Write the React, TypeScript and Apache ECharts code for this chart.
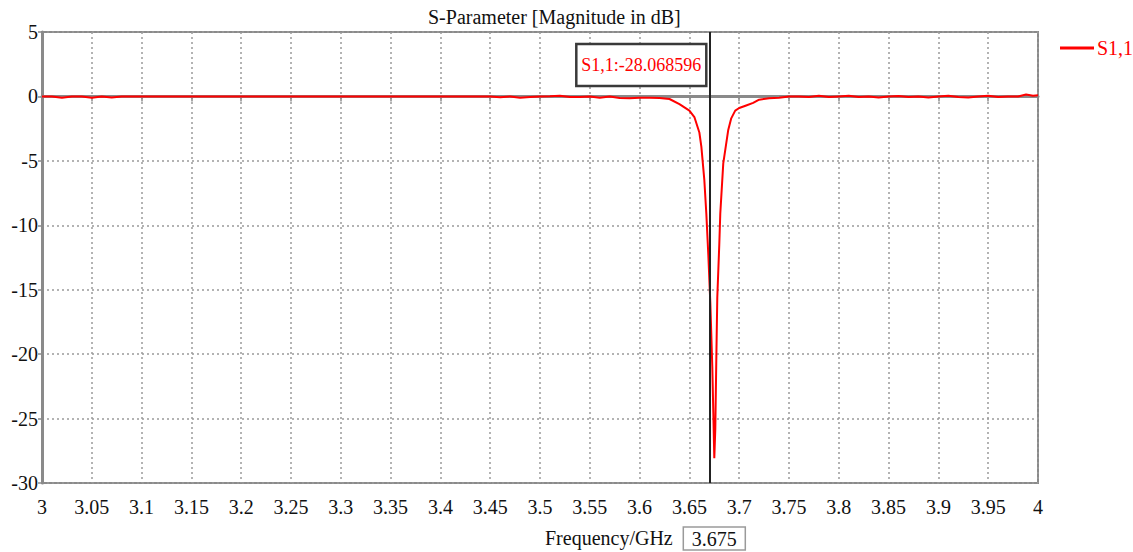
import React, { useEffect, useRef } from "react";
import * as echarts from "echarts";

const TITLE = "S-Parameter [Magnitude in dB]";
const X_NAME = "Frequency/GHz";
const SERIES_NAME = "S1,1";
const MARKER_FREQ = 3.675;
const MARKER_VALUE = -28.068596;

const freqs: number[] = [
  3.0, 3.01, 3.02, 3.03, 3.04, 3.05, 3.06, 3.07, 3.08, 3.09,
  3.1, 3.12, 3.15, 3.2, 3.25, 3.3, 3.35, 3.4, 3.45, 3.46,
  3.47, 3.48, 3.49, 3.5, 3.51, 3.52, 3.53, 3.54, 3.55, 3.56,
  3.57, 3.58, 3.59, 3.6, 3.61, 3.62, 3.63, 3.64, 3.65, 3.655,
  3.66, 3.662, 3.665, 3.667, 3.669, 3.671, 3.673, 3.674, 3.675, 3.676,
  3.677, 3.678, 3.68, 3.681, 3.684, 3.689, 3.692, 3.696, 3.7, 3.707,
  3.714, 3.72, 3.73, 3.74, 3.75, 3.76, 3.77, 3.78, 3.79, 3.8,
  3.81, 3.82, 3.83, 3.84, 3.85, 3.86, 3.87, 3.88, 3.89, 3.9,
  3.91, 3.92, 3.93, 3.94, 3.95, 3.96, 3.97, 3.98, 3.988, 3.995, 4.0,
];

const s11: number[] = [
  0, 0, -0.1, 0, 0, -0.1, 0, -0.08, 0, 0,
  0, 0, 0, 0, 0, 0, 0, 0, 0, -0.06,
  0, -0.1, -0.05, 0, 0.02, 0.05, -0.05, -0.05, 0, -0.1,
  0, -0.12, -0.15, -0.1, -0.1, -0.12, -0.2, -0.6, -1.1, -1.6,
  -2.8, -3.9, -6.5, -9.1, -12.3, -16, -21, -24.5, -28.07, -25.8,
  -20.5, -15.6, -11.5, -9.1, -5.2, -2.6, -1.7, -1.1, -0.9, -0.7,
  -0.5, -0.25, -0.15, -0.1, 0, 0, -0.05, 0.05, -0.05, 0,
  0.05, -0.05, 0, -0.08, 0, 0.03, -0.05, 0, -0.08, 0,
  0.05, -0.05, -0.08, 0, 0.05, -0.05, 0, 0, 0.15, 0.05, 0.1,
];

const X_MIN = 3;
const X_MAX = 4;
const X_STEP = 0.05;
const Y_MIN = -30;
const Y_MAX = 5;
const Y_STEP = 5;

const FONT = "Liberation Serif, serif";

export default function App() {
  const ref = useRef<HTMLDivElement>(null);

  useEffect(() => {
    document.body.style.margin = "0";
    if (!ref.current) return;
    const chart = echarts.init(ref.current, undefined, { renderer: "svg" });
    const data = freqs.map((f, i) => [f, s11[i]]);
    const gridLine = { show: true, lineStyle: { color: "#9a9a9a", width: 1.5, type: [2, 3] as any } };
    chart.setOption({
      animation: false,
      backgroundColor: "#ffffff",
      textStyle: { fontFamily: FONT },
      title: {
        text: TITLE,
        left: 423,
        top: 2,
        textStyle: { fontFamily: FONT, fontSize: 20, fontWeight: "normal", color: "#111" },
      },
      legend: {
        data: [SERIES_NAME],
        left: 1055,
        top: 33,
        icon: "rect",
        itemWidth: 34,
        itemHeight: 3,
        itemGap: 4,
        textStyle: { fontFamily: FONT, fontSize: 20, color: "#ff0000", padding: [0, 0, 0, -2] },
      },
      grid: {
        left: 42,
        right: 95,
        top: 32,
        bottom: 69,
        show: true,
        borderColor: "#8a8a8a",
        borderWidth: 2,
        containLabel: false,
      },
      xAxis: {
        type: "value",
        min: X_MIN,
        max: X_MAX,
        interval: X_STEP,
        axisLine: { show: true, lineStyle: { color: "#8a8a8a", width: 3 } },
        axisTick: { show: true, length: 5, lineStyle: { color: "#8a8a8a", width: 1.5 } },
        axisLabel: {
          fontFamily: FONT,
          fontSize: 20,
          color: "#111",
          margin: 14,
          formatter: (v: number) => String(+v.toFixed(2)),
        },
        splitLine: gridLine,
      },
      yAxis: {
        type: "value",
        min: Y_MIN,
        max: Y_MAX,
        interval: Y_STEP,
        axisLine: { show: true, lineStyle: { color: "#8a8a8a", width: 3 } },
        axisTick: { show: true, length: 4, lineStyle: { color: "#8a8a8a", width: 1.5 } },
        axisLabel: { fontFamily: FONT, fontSize: 20, color: "#111", margin: 4 },
        splitLine: gridLine,
      },
      series: [
        {
          name: SERIES_NAME,
          type: "line",
          data,
          symbol: "none",
          lineStyle: { color: "#ff0000", width: 2 },
          itemStyle: { color: "#ff0000" },
          markLine: {
            silent: true,
            symbol: "none",
            label: { show: false },
            lineStyle: { color: "#222", width: 2, type: "solid" },
            data: [{ xAxis: MARKER_FREQ }],
          },
          z: 3,
        },
      ],
    });

    const [mx, topY] = chart.convertToPixel({ gridIndex: 0 }, [MARKER_FREQ, Y_MAX]) as number[];
    const [, botY] = chart.convertToPixel({ gridIndex: 0 }, [MARKER_FREQ, Y_MIN]) as number[];
    const boxW = 130;
    const boxH = 42;
    chart.setOption({
      graphic: [
        {
          type: "group",
          x: mx - 8 - boxW,
          y: topY + 12,
          z: 10,
          children: [
            {
              type: "rect",
              shape: { x: 0, y: 0, width: boxW, height: boxH },
              style: { fill: "#fff", stroke: "#3a3a3a", lineWidth: 2.5 },
            },
            {
              type: "text",
              x: boxW / 2,
              y: boxH / 2,
              style: {
                text: `${SERIES_NAME}:${MARKER_VALUE.toFixed(6)}`,
                fill: "#ff0000",
                fontFamily: FONT,
                fontSize: 18,
                align: "center",
                verticalAlign: "middle",
              },
            },
          ],
        },
        {
          type: "text",
          x: 545,
          y: botY + 55,
          style: {
            text: X_NAME,
            fill: "#111",
            fontFamily: FONT,
            fontSize: 20,
            align: "left",
            verticalAlign: "middle",
          },
        },
        {
          type: "group",
          x: mx - 31,
          y: botY + 44,
          children: [
            {
              type: "rect",
              shape: { x: 0, y: 0, width: 62, height: 23 },
              style: { fill: "#fff", stroke: "#9a9a9a", lineWidth: 1.5 },
            },
            {
              type: "text",
              x: 31,
              y: 12,
              style: {
                text: MARKER_FREQ.toFixed(3),
                fill: "#111",
                fontFamily: FONT,
                fontSize: 20,
                align: "center",
                verticalAlign: "middle",
              },
            },
          ],
        },
      ],
    });

    return () => chart.dispose();
  }, []);

  return <div ref={ref} style={{ width: 1133, height: 552 }} />;
}
